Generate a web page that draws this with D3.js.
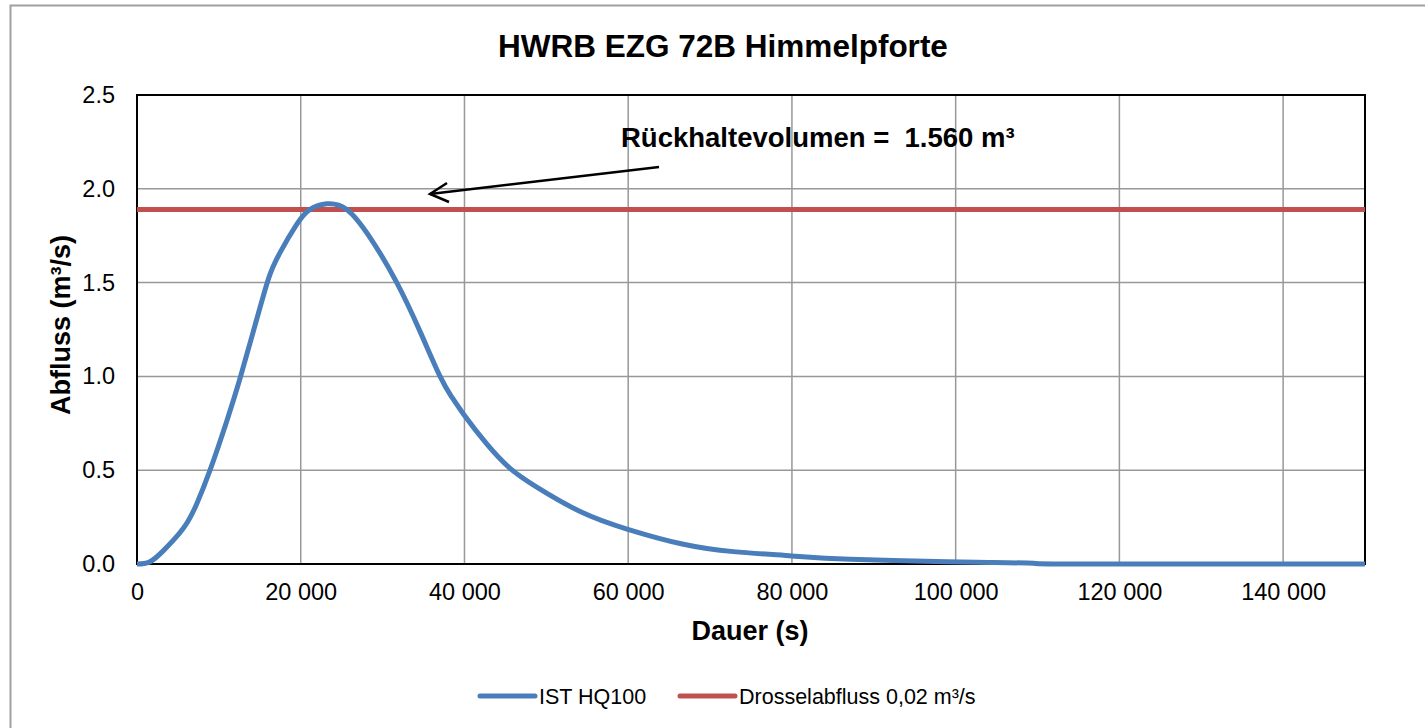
<!DOCTYPE html>
<html>
<head>
<meta charset="utf-8">
<script src="https://cdn.jsdelivr.net/npm/d3@7"></script>
<style>
  body { margin: 0; background: #fff; }
  svg { display: block; font-family: "Liberation Sans", Arial, sans-serif; }
</style>
</head>
<body>
<svg id="chart" width="1425" height="728"></svg>
<script>
// hydrograph IST HQ100
const duration = [0, 1500, 3200, 5660, 7290, 8920, 10950, 12590, 14210, 15840, 16580, 17470, 19510, 21140, 23180, 25620, 28470, 31730, 34570, 37020, 38450, 39870, 42720, 45570, 48830, 54130, 59950, 66750, 72860, 79990, 87110, 98920, 104000, 109500, 115000, 150000];
const discharge = [0, 0.01, 0.07, 0.19, 0.32, 0.50, 0.76, 0.99, 1.24, 1.49, 1.58, 1.66, 1.81, 1.89, 1.92, 1.89, 1.74, 1.50, 1.24, 1.00, 0.89, 0.80, 0.64, 0.51, 0.41, 0.28, 0.185, 0.105, 0.066, 0.043, 0.025, 0.012, 0.008, 0.004, 0, 0];
const throttle = 1.89;
const xTicks = [0, 20000, 40000, 60000, 80000, 100000, 120000, 140000];
const yTicks = [0, 0.5, 1.0, 1.5, 2.0, 2.5];
const seriesNames = ['IST HQ100', 'Drosselabfluss 0,02 m³/s'];
const seriesColors = ['#4a7ebb', '#c0504d'];

const svg = d3.select('#chart');
const m = { left: 137, top: 95, right: 1365, bottom: 564 };

const x = d3.scaleLinear().domain([0, 150000]).range([m.left, m.right]);
const y = d3.scaleLinear().domain([0, 2.5]).range([m.bottom, m.top]);

// outer frame
svg.append('rect').attr('x', 10.5).attr('y', 5.5).attr('width', 1440).attr('height', 740)
  .attr('fill', 'none').attr('stroke', '#a0a0a0').attr('stroke-width', 2);

svg.append('text').attr('x', 723).attr('y', 57).attr('text-anchor', 'middle')
  .attr('font-size', 31.5).attr('font-weight', 'bold').text('HWRB EZG 72B Himmelpforte');

// grid
svg.append('g').selectAll('line').data(xTicks.filter(d => d > 0)).join('line')
  .attr('x1', d => x(d)).attr('x2', d => x(d)).attr('y1', m.top).attr('y2', m.bottom)
  .attr('stroke', '#989898').attr('stroke-width', 1.5);
svg.append('g').selectAll('line').data(yTicks.filter(d => d > 0)).join('line')
  .attr('x1', m.left).attr('x2', m.right).attr('y1', d => y(d)).attr('y2', d => y(d))
  .attr('stroke', '#989898').attr('stroke-width', 1.5);

// plot border
svg.append('rect').attr('x', m.left).attr('y', m.top)
  .attr('width', m.right - m.left).attr('height', m.bottom - m.top)
  .attr('fill', 'none').attr('stroke', '#000').attr('stroke-width', 2);

// axes
const fmt = d => d3.format(',')(d).replace(/,/g, ' ');
const xAxis = svg.append('g').attr('transform', `translate(0,${m.bottom})`)
  .call(d3.axisBottom(x).tickValues(xTicks).tickFormat(fmt).tickSize(0).tickPadding(19));
xAxis.select('.domain').remove();
xAxis.selectAll('text').attr('font-size', 23.5).attr('font-family', 'Liberation Sans, Arial, sans-serif').attr('fill', '#000');

const yAxis = svg.append('g').attr('transform', `translate(${m.left},0)`)
  .call(d3.axisLeft(y).tickValues(yTicks).tickFormat(d3.format('.1f')).tickSize(0).tickPadding(22));
yAxis.select('.domain').remove();
yAxis.selectAll('text').attr('font-size', 23.5).attr('font-family', 'Liberation Sans, Arial, sans-serif').attr('fill', '#000');

svg.append('text').attr('x', 750).attr('y', 640).attr('text-anchor', 'middle')
  .attr('font-size', 27).attr('font-weight', 'bold').text('Dauer (s)');
svg.append('text').attr('transform', 'translate(70,325) rotate(-90)').attr('text-anchor', 'middle')
  .attr('font-size', 27).attr('font-weight', 'bold').text('Abfluss (m³/s)');

// series
svg.append('line').attr('x1', m.left).attr('x2', m.right)
  .attr('y1', y(throttle)).attr('y2', y(throttle))
  .attr('stroke', seriesColors[1]).attr('stroke-width', 5);

const pts = duration.map((d, i) => [d, discharge[i]]);
svg.append('path').datum(pts)
  .attr('fill', 'none').attr('stroke', seriesColors[0]).attr('stroke-width', 5)
  .attr('stroke-linejoin', 'round')
  .attr('d', d3.line().x(d => x(d[0])).y(d => Math.min(y(d[1]), m.bottom)).curve(d3.curveNatural));

// annotation
svg.append('text').attr('x', 621).attr('y', 147)
  .attr('font-size', 27.5).attr('font-weight', 'bold').attr('xml:space', 'preserve')
  .text('Rückhaltevolumen =  1.560 m³');
svg.append('line').attr('x1', 659).attr('y1', 167).attr('x2', 430).attr('y2', 194)
  .attr('stroke', '#000').attr('stroke-width', 2.5);
svg.append('path').attr('d', 'M447,183 L430,194 L449,202')
  .attr('fill', 'none').attr('stroke', '#000').attr('stroke-width', 2.5);

// legend
const legend = svg.append('g');
const lx = [480, 680];
seriesNames.forEach((n, i) => {
  legend.append('line').attr('x1', lx[i]).attr('x2', lx[i] + 55).attr('y1', 696).attr('y2', 696)
    .attr('stroke', seriesColors[i]).attr('stroke-width', 5).attr('stroke-linecap', 'round');
  legend.append('text').attr('x', lx[i] + 59).attr('y', 704).attr('font-size', 21.5).text(n);
});
</script>
</body>
</html>
